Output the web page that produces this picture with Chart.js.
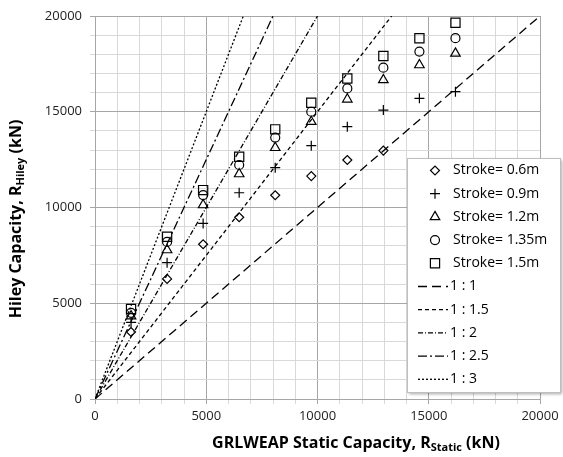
<!DOCTYPE html>
<html>
<head>
<meta charset="utf-8">
<script src="https://cdn.jsdelivr.net/npm/chart.js@4.4.1/dist/chart.umd.min.js"></script>
<style>
  body { margin: 0; background: #fff; }
  #wrap { position: relative; width: 563px; height: 457px; font-family: "Open Sans", sans-serif; }
  .atitle { position: absolute; font-weight: bold; font-size: 16px; color: #000; white-space: nowrap; line-height: 20px; }
  .atitle sub { font-size: 11px; vertical-align: -3px; line-height: 0; }
  #ytitle { left: -135px; top: 209px; width: 300px; text-align: center; transform: rotate(-90deg); }
  #xtitle { left: 206px; top: 432px; width: 300px; text-align: center; }
</style>
</head>
<body>
<div id="wrap">
  <canvas id="myChart" width="563" height="457"></canvas>
  <div class="atitle" id="ytitle">Hiley Capacity, R<sub>Hiley</sub> (kN)</div>
  <div class="atitle" id="xtitle">GRLWEAP Static Capacity, R<sub>Static</sub> (kN)</div>
</div>
<script>
// GRLWEAP static capacity (x) for each analysis
let staticCap = [1620, 3240, 4860, 6480, 8100, 9720, 11340, 12960, 14580, 16200];

// Hiley capacity per hammer stroke
let stroke06 = [3500, 6270, 8080, 9490, 10640, 11640, 12480, 12970];
let stroke09 = [4000, 7120, 9170, 10770, 12080, 13230, 14220, 15090, 15700, 16050];
let stroke12 = [4330, 7780, 10130, 11750, 13120, 14480, 15650, 16660, 17440, 18050];
let stroke135 = [4500, 8200, 10650, 12220, 13650, 15000, 16220, 17300, 18140, 18840];
let stroke15 = [4700, 8470, 10910, 12650, 14080, 15470, 16740, 17910, 18840, 19650];

// reference ratio lines 1:k
let ratios = [1, 1.5, 2, 2.5, 3];
let ratioLabels = ["1 : 1", "1 : 1.5", "1 : 2", "1 : 2.5", "1 : 3"];
let ratioDash = [[9, 5], [4, 3], [5, 2, 1, 2], [9, 3, 2, 3], [2, 2]];

let axisMax = 20000;

function toPoints(ys) {
    let pts = [];
    for (let i = 0; i < ys.length; i++) {
        pts.push({x: staticCap[i], y: ys[i]});
    }
    return pts;
}

let markerSets = [
    {label: "Stroke= 0.6m", data: toPoints(stroke06), pointStyle: "rectRot", pointRadius: 4.5},
    {label: "Stroke= 0.9m", data: toPoints(stroke09), pointStyle: "cross", pointRadius: 5},
    {label: "Stroke= 1.2m", data: toPoints(stroke12), pointStyle: "triangle", pointRadius: 5.5},
    {label: "Stroke= 1.35m", data: toPoints(stroke135), pointStyle: "circle", pointRadius: 4.5},
    {label: "Stroke= 1.5m", data: toPoints(stroke15), pointStyle: "rect", pointRadius: 6.5}
];

let datasets = [];
markerSets.forEach(function (m) {
    datasets.push({
        type: "scatter",
        label: m.label,
        data: m.data,
        pointStyle: m.pointStyle,
        pointRadius: m.pointRadius,
        pointHoverRadius: m.pointRadius,
        borderColor: "#000",
        backgroundColor: "rgba(0,0,0,0)",
        pointBorderWidth: 1.2,
        showLine: false
    });
});
ratios.forEach(function (k, i) {
    datasets.push({
        type: "line",
        label: ratioLabels[i],
        data: [{x: 0, y: 0}, {x: axisMax / k, y: axisMax}],
        borderColor: "#000",
        borderWidth: 1.3,
        borderDash: ratioDash[i],
        pointRadius: 0,
        fill: false
    });
});

function gridColor(ctx) {
    if (ctx.tick && ctx.tick.value % 5000 === 0) return "#a6a6a6";
    return "#d9d9d9";
}

// legend box drawn over the plot, like the spreadsheet one
let boxLegend = {
    id: "boxLegend",
    afterDraw: function (chart) {
        let ctx = chart.ctx;
        let bx = 407, by = 158, bw = 153, bh = 234;
        ctx.save();
        ctx.shadowColor = "rgba(0,0,0,0.35)";
        ctx.shadowOffsetX = 2;
        ctx.shadowOffsetY = 2;
        ctx.shadowBlur = 3;
        ctx.fillStyle = "#fff";
        ctx.fillRect(bx, by, bw, bh);
        ctx.restore();
        ctx.save();
        ctx.strokeStyle = "#bfbfbf";
        ctx.lineWidth = 1;
        ctx.strokeRect(bx + 0.5, by + 0.5, bw, bh);
        ctx.font = "14px 'Open Sans'";
        ctx.textBaseline = "middle";
        chart.data.datasets.forEach(function (ds, i) {
            let y = 170.5 + i * 23.2;
            ctx.strokeStyle = "#000";
            if (ds.type === "scatter") {
                ctx.lineWidth = 1.2;
                ctx.fillStyle = "rgba(0,0,0,0)";
                Chart.helpers.drawPoint(ctx, {pointStyle: ds.pointStyle, radius: ds.pointRadius, borderWidth: 1.2, rotation: 0}, 435, y);
                ctx.fillStyle = "#000";
                ctx.fillText(ds.label, 453, y);
            } else {
                ctx.lineWidth = 1.3;
                ctx.setLineDash(ds.borderDash);
                ctx.beginPath();
                ctx.moveTo(418, y);
                ctx.lineTo(448, y);
                ctx.stroke();
                ctx.setLineDash([]);
                ctx.fillStyle = "#000";
                ctx.fillText(ds.label, 450, y);
            }
        });
        ctx.restore();
    }
};

new Chart("myChart", {
    type: "scatter",
    data: {datasets: datasets},
    options: {
        responsive: false,
        animation: false,
        layout: {padding: {top: 16, right: 23, left: 0, bottom: 0}},
        plugins: {
            legend: {display: false},
            tooltip: {enabled: false}
        },
        scales: {
            x: {
                type: "linear",
                min: 0,
                max: axisMax,
                afterFit: function (scale) { scale.height = 58; },
                ticks: {
                    stepSize: 1000,
                    autoSkip: false,
                    maxRotation: 0,
                    color: "#222",
                    font: {family: "Open Sans", size: 13},
                    padding: 4,
                    callback: function (v) { return v % 5000 === 0 ? v : ""; }
                },
                grid: {color: gridColor, tickLength: 5, lineWidth: 1},
                border: {color: "#a6a6a6"}
            },
            y: {
                type: "linear",
                min: 0,
                max: axisMax,
                afterFit: function (scale) { scale.width = 95; },
                ticks: {
                    stepSize: 1000,
                    autoSkip: false,
                    color: "#222",
                    font: {family: "Open Sans", size: 13},
                    padding: 8,
                    callback: function (v) { return v % 5000 === 0 ? v : ""; }
                },
                grid: {color: gridColor, tickLength: 5, lineWidth: 1},
                border: {color: "#a6a6a6"}
            }
        }
    },
    plugins: [boxLegend]
});
</script>
</body>
</html>
